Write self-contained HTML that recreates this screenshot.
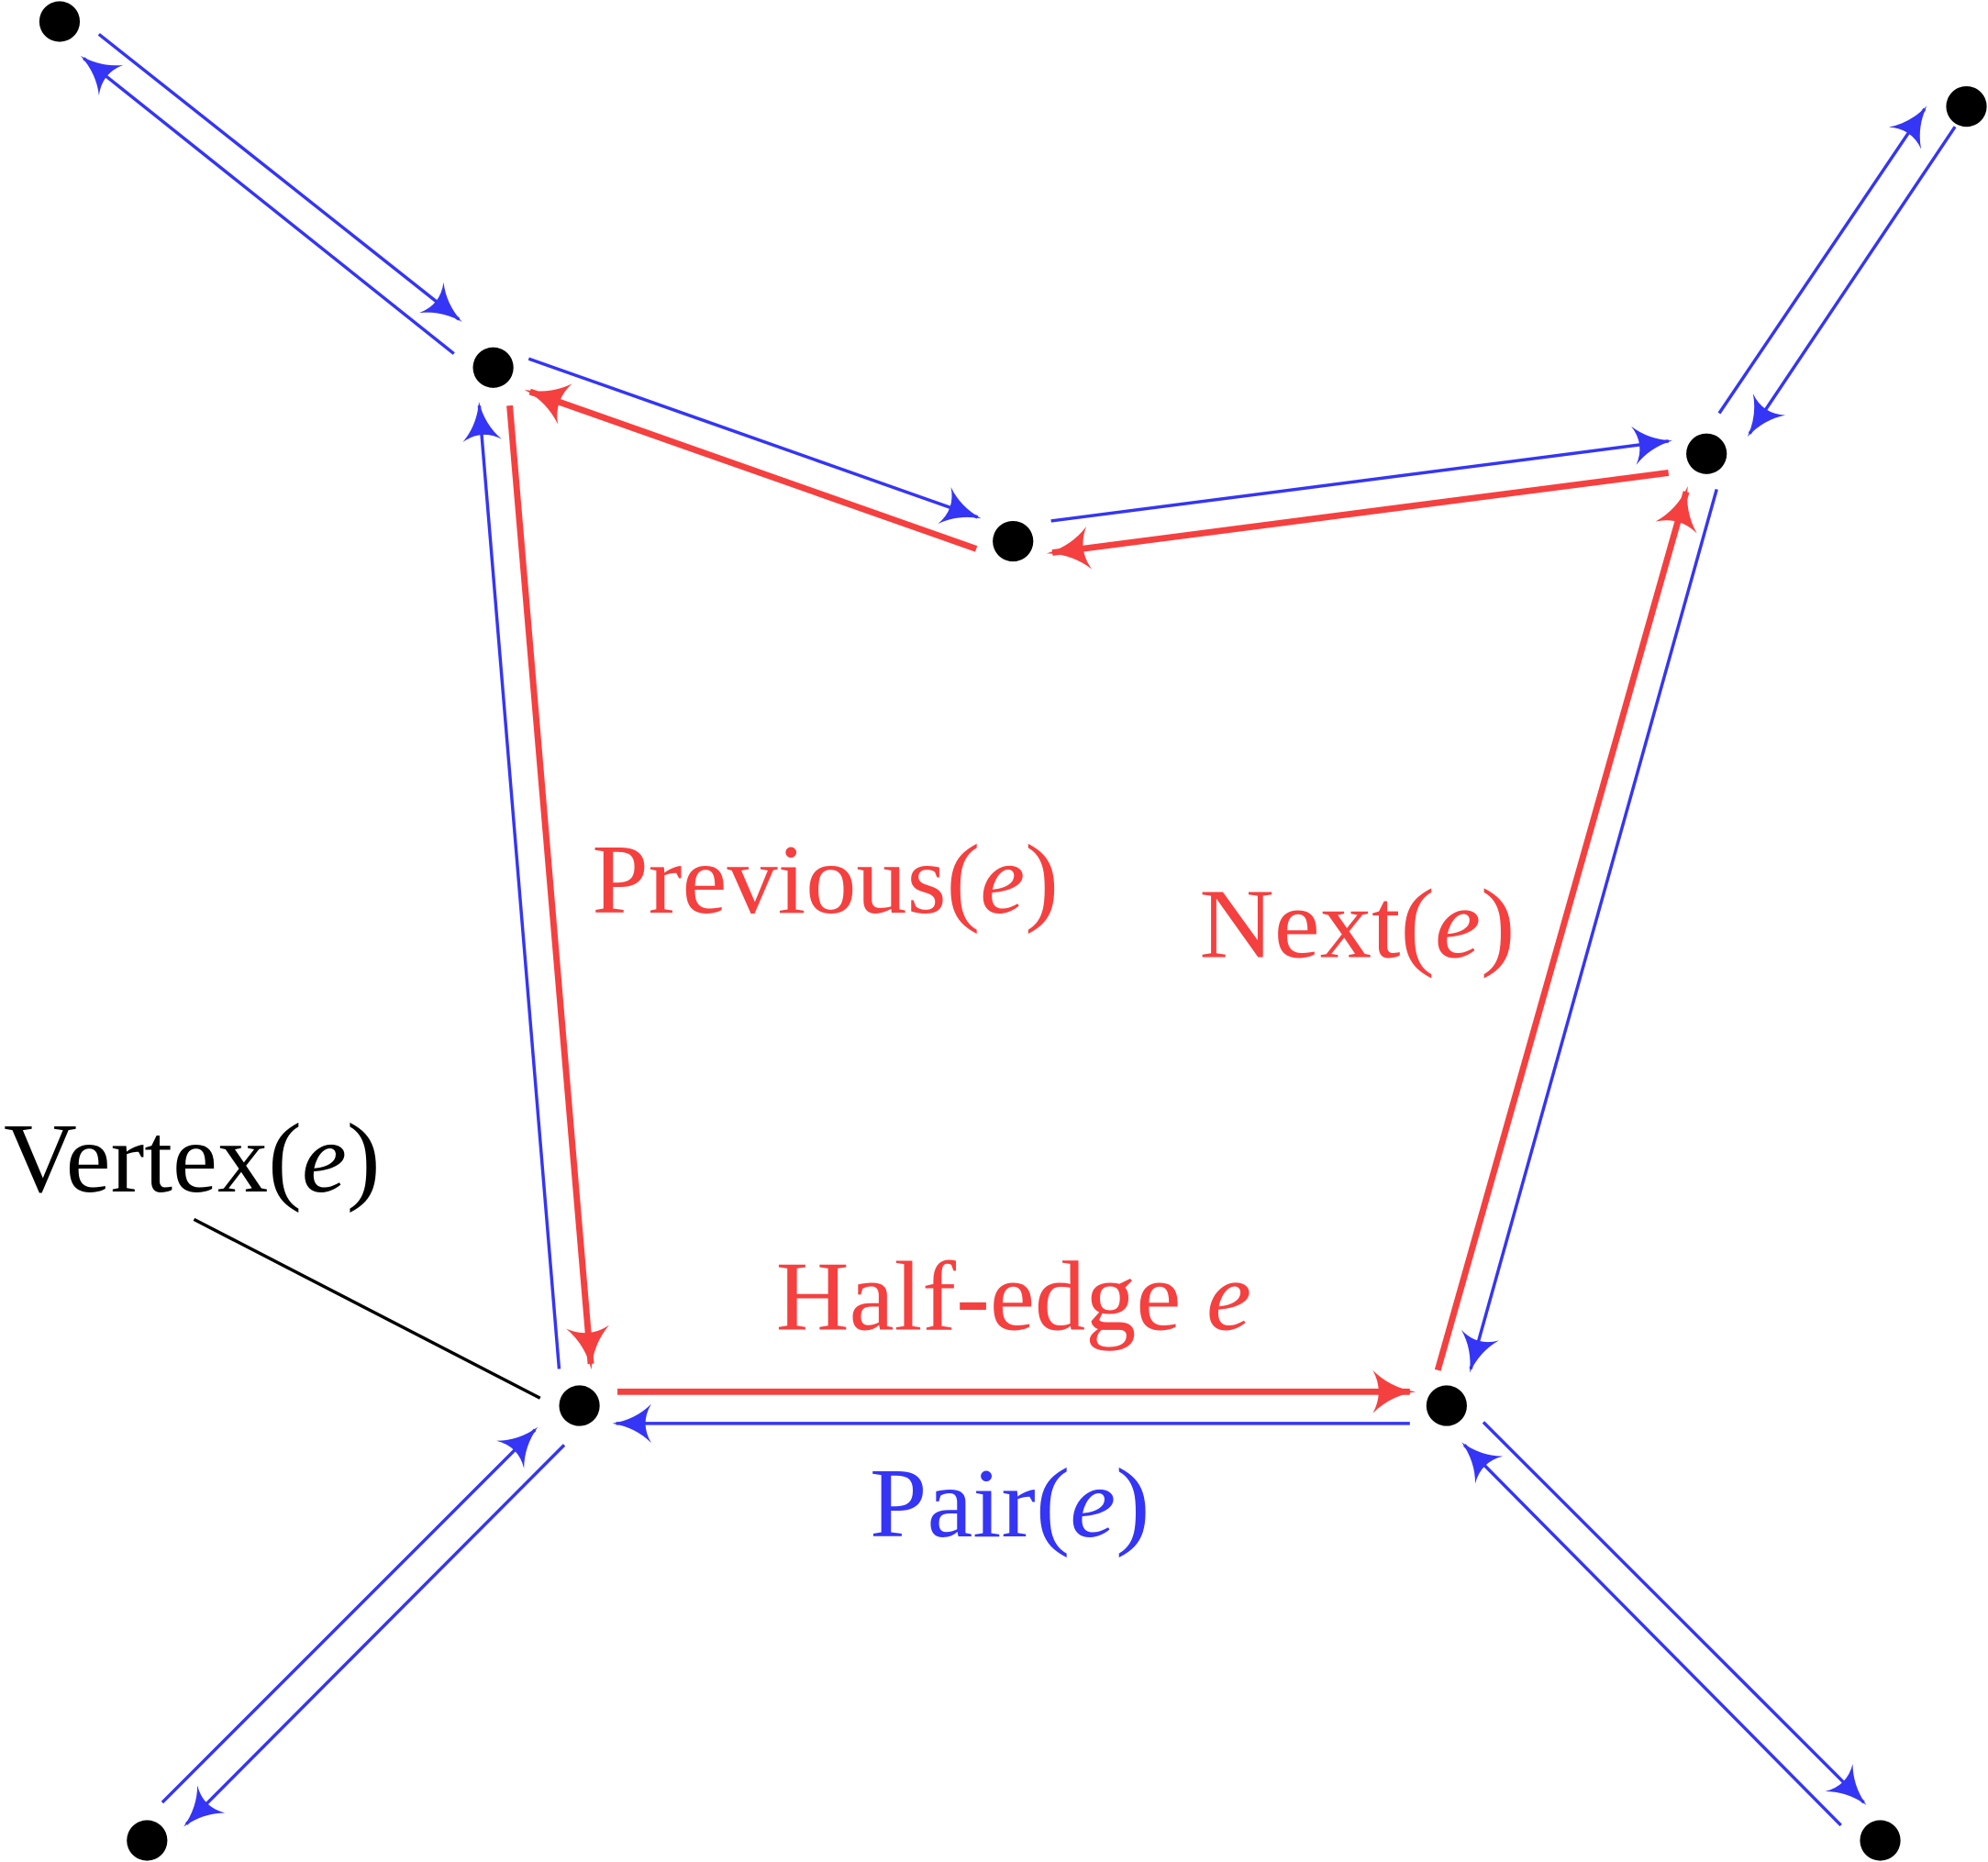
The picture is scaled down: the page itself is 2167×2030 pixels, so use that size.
<!DOCTYPE html>
<html><head><meta charset="utf-8"><style>
html,body{margin:0;padding:0;background:#fff;}
svg{display:block;}
text{font-family:"Liberation Serif",serif;}
</style></head><body>
<svg width="2167" height="2030" viewBox="0 0 1568 1469" preserveAspectRatio="none">
<defs>
<marker id="ab" markerUnits="userSpaceOnUse" markerWidth="40" markerHeight="40" refX="0" refY="0" viewBox="-22 -12 26 24" orient="auto"><path d="M2,0 Q-10,-2 -18,-10 Q-12,0 -18,10 Q-10,2 2,0Z" fill="#3535f5"/></marker>
<marker id="ar" markerUnits="userSpaceOnUse" markerWidth="40" markerHeight="40" refX="0" refY="0" viewBox="-22 -12 26 24" orient="auto"><path d="M3,0 Q-10,-2 -19,-11 Q-13,0 -19,11 Q-10,2 3,0Z" fill="#f54040"/></marker>
</defs>
<g stroke="#3535f5" stroke-width="2.5" fill="none" marker-end="url(#ab)">
<line x1="78" y1="27" x2="362" y2="252"/>
<line x1="358" y1="279" x2="66" y2="46"/>
<line x1="417" y1="283" x2="771" y2="408"/>
<line x1="829" y1="411" x2="1316" y2="348"/>
<line x1="1356" y1="326" x2="1518" y2="86"/>
<line x1="1542" y1="100" x2="1380" y2="342"/>
<line x1="1354" y1="386" x2="1160" y2="1080"/>
<line x1="441" y1="1080" x2="378" y2="320"/>
<line x1="1112" y1="1123" x2="486" y2="1123"/>
<line x1="128" y1="1422" x2="422" y2="1128"/>
<line x1="445" y1="1140" x2="147" y2="1439"/>
<line x1="1170" y1="1122" x2="1470" y2="1422"/>
<line x1="1452" y1="1440" x2="1155" y2="1140"/>
</g>
<g stroke="#f54040" stroke-width="5" fill="none" marker-end="url(#ar)">
<line x1="487" y1="1098" x2="1112" y2="1098"/>
<line x1="1134" y1="1081" x2="1330" y2="388"/>
<line x1="1316" y1="373" x2="830" y2="436"/>
<line x1="770" y1="433" x2="418" y2="309"/>
<line x1="402" y1="320" x2="466" y2="1076"/>
</g>
<line x1="153" y1="962" x2="426" y2="1103" stroke="#000" stroke-width="2.5"/>
<g fill="#000">
<circle cx="47" cy="17" r="16"/>
<circle cx="389" cy="290" r="16"/>
<circle cx="799" cy="427" r="16"/>
<circle cx="1346" cy="358" r="16"/>
<circle cx="1551" cy="84" r="16"/>
<circle cx="457" cy="1109" r="16"/>
<circle cx="1141" cy="1109" r="16"/>
<circle cx="116" cy="1452" r="16"/>
<circle cx="1483" cy="1452" r="16"/>
</g>
<text x="467" y="720" font-size="78" fill="#f54040" textLength="368" lengthAdjust="spacingAndGlyphs">Previous(<tspan font-style="italic">e</tspan>)</text>
<text x="946" y="755" font-size="78" fill="#f54040" textLength="249" lengthAdjust="spacingAndGlyphs">Next(<tspan font-style="italic">e</tspan>)</text>
<text x="3" y="940" font-size="78" fill="#000" textLength="297" lengthAdjust="spacingAndGlyphs">Vertex(<tspan font-style="italic">e</tspan>)</text>
<text x="612" y="1049" font-size="78" fill="#f54040" textLength="375" lengthAdjust="spacingAndGlyphs">Half-edge <tspan font-style="italic">e</tspan></text>
<text x="686" y="1212" font-size="78" fill="#3535f5" textLength="221" lengthAdjust="spacingAndGlyphs">Pair(<tspan font-style="italic">e</tspan>)</text>
</svg>
</body></html>
